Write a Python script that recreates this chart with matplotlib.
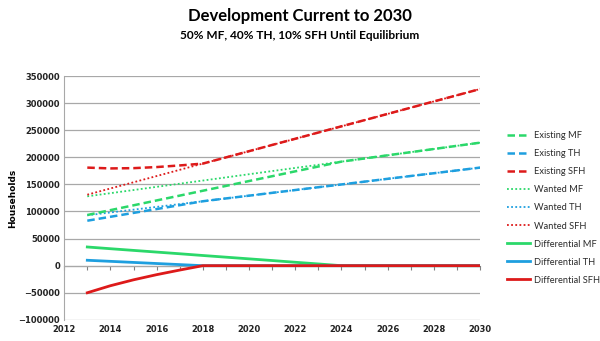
import matplotlib
matplotlib.use("Agg")
import matplotlib.pyplot as plt
from matplotlib.ticker import MultipleLocator

years = list(range(2013, 2031))

# households by housing type (MF = multi-family, TH = townhouse, SFH = single family)
existing_mf = [93500, 102500, 111400, 120400, 129300, 138300, 147200, 156200, 165100,
               174100, 183000, 192000, 197900, 203700, 209500, 215300, 221200, 227000]
existing_th = [83000, 90200, 97400, 104500, 111700, 118900, 124100, 129200, 134400,
               139600, 144800, 149900, 155100, 160300, 165500, 170600, 175800, 181000]
existing_sfh = [181000, 179500, 180000, 182000, 185000, 188400, 199800, 211300, 222800,
                234200, 245700, 257200, 268600, 280100, 291600, 303100, 314500, 326000]

wanted_mf = [128000, 133800, 139600, 145500, 151300, 157100, 162900, 168800, 174600,
             180400, 186200, 192000, 197900, 203700, 209500, 215300, 221200, 227000]
wanted_th = [93000, 98200, 103400, 108500, 113700, 118900, 124100, 129200, 134400,
             139600, 144800, 149900, 155100, 160300, 165500, 170600, 175800, 181000]
wanted_sfh = [131000, 142500, 153900, 165400, 176900, 188400, 199800, 211300, 222800,
              234200, 245700, 257200, 268600, 280100, 291600, 303100, 314500, 326000]

diff_mf = [34500, 31300, 28200, 25100, 22000, 18800, 15700, 12600, 9500,
           6300, 3200, 0, 0, 0, 0, 0, 0, 0]
diff_th = [10000, 8000, 6000, 4000, 2000, 0, 0, 0, 0,
           0, 0, 0, 0, 0, 0, 0, 0, 0]
diff_sfh = [-50000, -37000, -26100, -16600, -8100, 0, 0, 0, 0,
            0, 0, 0, 0, 0, 0, 0, 0, 0]

green = "#2BD86A"
blue = "#1E9FDF"
red = "#DD1A1A"

fig = plt.figure(figsize=(6, 3.41), dpi=100)
ax = fig.add_axes([0.107, 0.062, 0.693, 0.715])

dash = (0, (3, 1.6))
dot = (0, (1, 1.3))
ax.plot(years, existing_mf, color=green, lw=1.8, ls=dash, label="Existing MF")
ax.plot(years, existing_th, color=blue, lw=1.8, ls=dash, label="Existing TH")
ax.plot(years, existing_sfh, color=red, lw=1.8, ls=dash, label="Existing SFH")
ax.plot(years, wanted_mf, color=green, lw=1.3, ls=dot, label="Wanted MF", zorder=1.9)
ax.plot(years, wanted_th, color=blue, lw=1.3, ls=dot, label="Wanted TH", zorder=1.9)
ax.plot(years, wanted_sfh, color=red, lw=1.3, ls=dot, label="Wanted SFH", zorder=1.9)
ax.plot(years, diff_mf, color=green, lw=2.0, label="Differential MF")
ax.plot(years, diff_th, color=blue, lw=2.0, label="Differential TH")
ax.plot(years, diff_sfh, color=red, lw=2.0, label="Differential SFH")

ax.set_xlim(2012, 2030)
ax.set_ylim(-100000, 350000)
ax.xaxis.set_major_locator(MultipleLocator(2))
ax.yaxis.set_major_locator(MultipleLocator(50000))
ax.grid(axis="y", color="#A8A8A8", lw=0.9)
ax.set_axisbelow(True)

for side in ["top", "right", "bottom"]:
    ax.spines[side].set_visible(False)
ax.spines["left"].set_color("#A8A8A8")
ax.tick_params(axis="both", length=0, labelsize=6, labelcolor="#222222", pad=4)
ax.tick_params(axis="y", pad=3)
for lbl in ax.get_xticklabels() + ax.get_yticklabels():
    lbl.set_fontweight("bold")

# zero line with yearly tick marks
zero_axis = ax.secondary_xaxis(100000 / 450000)
zero_axis.xaxis.set_major_locator(MultipleLocator(1))
zero_axis.spines["bottom"].set_color("#808080")
zero_axis.tick_params(length=3, color="#808080", labelbottom=False)

ax.set_ylabel("Households", fontsize=6.5, fontweight="bold", labelpad=1)

fig.text(0.5, 0.953, "Development Current to 2030", ha="center", va="center",
         fontsize=12, fontweight="bold", family="Lato")
fig.text(0.5, 0.897, "50% MF, 40% TH, 10% SFH Until Equilibrium", ha="center", va="center",
         fontsize=8.6, fontweight="bold", family="Lato")

leg = ax.legend(loc="upper left", bbox_to_anchor=(1.065, 0.773), frameon=False,
                prop={"family": "Lato", "size": 6.7}, handlelength=2.5,
                handletextpad=0.35, labelspacing=0.97, borderpad=0, borderaxespad=0)
for t in leg.get_texts():
    t.set_color("#2A2A2A")

fig.savefig("out.png", dpi=100)
